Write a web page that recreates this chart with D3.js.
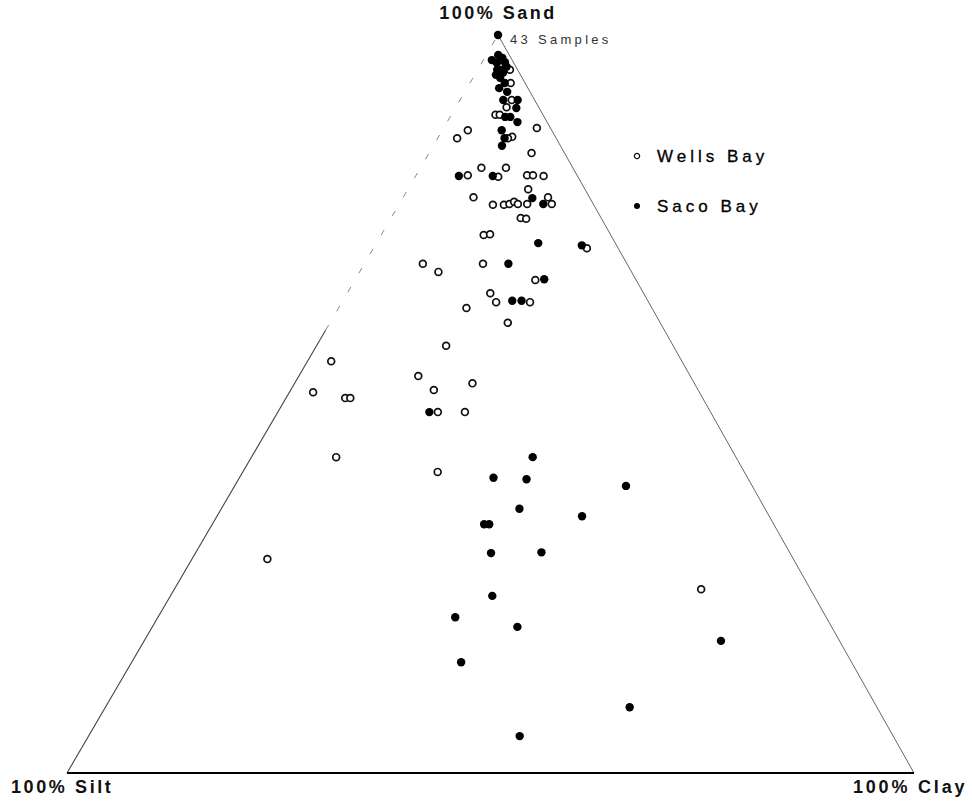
<!DOCTYPE html>
<html>
<head>
<meta charset="utf-8">
<script src="https://cdn.jsdelivr.net/npm/d3@7/dist/d3.min.js"></script>
<style>
  html, body { margin: 0; padding: 0; background: #fff; }
  svg { display: block; }
  text { font-family: "Liberation Sans", Arial, sans-serif; fill: #111; }
</style>
</head>
<body>
<svg id="chart" width="972" height="801"></svg>
<script>
// corner labels: sand on top, silt bottom left, clay bottom right
const cornerLabels = ["100% Sand", "100% Silt", "100% Clay"]
const seriesNames = ["Wells Bay", "Saco Bay"]

// samples piled on the 100% sand corner
const apexSamples = [[100, 0, 0, 43]]

// [sand, silt, clay] in percent
const wellsBay = [
  [95.3, 0.9, 3.8], [93.5, 1.7, 4.8], [91.2, 2.7, 6.1], [90.2, 3.8, 6.0],
  [89.2, 5.6, 5.2], [89.2, 5.1, 5.7], [86.2, 5.1, 8.7], [86.0, 5.7, 8.3],
  [87.4, 1.6, 11.0], [87.1, 9.9, 3.0], [86.0, 11.7, 2.3], [84.0, 3.9, 12.1],
  [82.0, 10.8, 7.2], [82.0, 7.9, 10.1], [81.0, 12.9, 6.1], [80.8, 9.4, 9.8],
  [81.0, 5.9, 13.1], [81.0, 5.2, 13.8], [80.9, 4.0, 15.1], [79.1, 6.7, 14.2],
  [78.0, 13.7, 8.3], [78.0, 4.9, 17.1], [77.1, 4.9, 18.0], [77.0, 11.9, 11.1],
  [77.0, 10.6, 12.4], [77.1, 9.9, 13.0], [77.4, 9.2, 13.4], [77.1, 8.9, 14.0],
  [77.1, 7.8, 15.1], [75.2, 9.5, 15.3], [75.1, 8.9, 16.0], [72.9, 15.0, 12.1],
  [73.0, 14.2, 12.8], [71.1, 3.7, 25.2], [69.0, 24.1, 6.9], [67.9, 22.8, 9.3],
  [69.0, 17.0, 14.0], [66.8, 11.9, 21.3], [65.0, 18.1, 16.9], [63.8, 18.0, 18.2],
  [63.8, 14.0, 22.2], [63.0, 21.9, 15.1], [61.0, 18.0, 21.0], [57.9, 26.8, 15.3],
  [55.8, 41.4, 2.8], [51.6, 45.6, 2.8], [50.8, 42.2, 7.0], [50.8, 41.6, 7.6],
  [53.8, 32.1, 14.1], [52.8, 26.2, 21.0], [51.9, 31.2, 16.9], [48.9, 32.2, 18.9],
  [48.9, 29.0, 22.1], [42.8, 47.2, 10.0], [40.8, 36.2, 23.0], [29.0, 62.1, 8.9],
  [24.9, 12.9, 62.2]
]

const sacoBay = [
  [97.3, 1.3, 1.4], [96.9, 1.0, 2.1], [96.3, 1.0, 2.7], [96.2, 2.0, 1.8],
  [95.7, 1.1, 3.2], [95.3, 2.4, 2.3], [95.3, 1.8, 2.9], [94.9, 1.9, 3.2],
  [94.2, 2.6, 3.2], [93.5, 2.4, 4.1], [92.3, 2.7, 5.0], [91.2, 3.7, 5.1],
  [91.2, 2.0, 6.8], [90.1, 2.7, 7.2], [88.9, 4.6, 6.5], [88.9, 4.0, 7.1],
  [88.2, 3.5, 8.3], [87.1, 5.9, 7.0], [86.0, 6.1, 7.9], [85.0, 6.9, 8.1],
  [96.6, 2.4, 1.0], [94.6, 2.9, 2.5], [92.8, 3.4, 3.8],
  [80.9, 14.0, 5.1], [80.9, 10.0, 9.1], [77.9, 6.8, 15.3], [77.1, 5.9, 17.0],
  [71.8, 9.1, 19.1], [71.5, 4.1, 24.4], [69.0, 14.0, 17.0], [66.9, 10.8, 22.3],
  [64.0, 16.0, 20.0], [64.0, 14.9, 21.1], [48.9, 33.2, 17.9], [42.8, 24.0, 33.2],
  [40.0, 30.0, 30.0], [39.8, 26.2, 34.0], [38.9, 14.9, 46.2], [35.8, 29.0, 35.2],
  [34.8, 22.1, 43.1], [33.7, 34.2, 32.1], [33.7, 33.6, 32.7], [29.8, 35.3, 34.9],
  [29.9, 29.3, 40.8], [24.0, 38.0, 38.0], [21.1, 43.8, 35.1], [19.8, 37.1, 43.1],
  [15.0, 46.1, 38.9], [17.9, 14.0, 68.1], [8.9, 29.2, 61.9], [5.0, 44.1, 50.9]
]

const svg = d3.select("#chart")

// triangle corners (pixels)
const apex = [498, 35], silt = [67, 773], clay = [914, 773]

// barycentric projection through linear scales
const yScale = d3.scaleLinear().domain([0, 100]).range([silt[1], apex[1]])
const xClay = d3.scaleLinear().domain([0, 100]).range([silt[0], clay[0]])
const xSand = d3.scaleLinear().domain([0, 100]).range([0, apex[0] - silt[0]])
const px = d => xClay(d[2]) + xSand(d[0])
const py = d => yScale(d[0])

// triangle edges
const edges = svg.append("g")
const midLeft = [60, 40, 0]
edges.append("line")
  .attr("x1", px([0, 100, 0])).attr("y1", py([0, 100, 0]))
  .attr("x2", px(midLeft)).attr("y2", py(midLeft))
  .style("stroke", "#444").style("stroke-width", 1.1)
edges.append("line")
  .attr("x1", px(midLeft)).attr("y1", py(midLeft))
  .attr("x2", px([100, 0, 0])).attr("y2", py([100, 0, 0]))
  .style("stroke", "#888").style("stroke-width", 1)
  .style("stroke-dasharray", "6,16")
edges.append("line")
  .attr("x1", px([100, 0, 0])).attr("y1", py([100, 0, 0]))
  .attr("x2", px([0, 0, 100])).attr("y2", py([0, 0, 100]))
  .style("stroke", "#666").style("stroke-width", 1)
edges.append("line")
  .attr("x1", px([0, 100, 0])).attr("y1", py([0, 100, 0]))
  .attr("x2", px([0, 0, 100])).attr("y2", py([0, 0, 100]))
  .style("stroke", "#000").style("stroke-width", 2.2)

// corner labels
svg.append("text").text(cornerLabels[0])
  .attr("x", apex[0]).attr("y", 19).attr("text-anchor", "middle")
  .style("font-size", "18px").style("font-weight", "bold").style("letter-spacing", "2.5px")
svg.append("text").text(cornerLabels[1])
  .attr("x", 11).attr("y", 793)
  .style("font-size", "18px").style("font-weight", "bold").style("letter-spacing", "2.6px")
svg.append("text").text(cornerLabels[2])
  .attr("x", 853).attr("y", 793)
  .style("font-size", "18px").style("font-weight", "bold").style("letter-spacing", "2.8px")

// sample points
const pts = svg.append("g")
pts.selectAll(".wells")
  .data(wellsBay)
  .enter()
  .append("circle")
  .attr("class", "wells")
  .attr("cx", px).attr("cy", py).attr("r", 3.4)
  .style("fill", "#fff").style("stroke", "#111").style("stroke-width", 1.7)

pts.selectAll(".saco")
  .data(sacoBay.concat(apexSamples))
  .enter()
  .append("circle")
  .attr("class", "saco")
  .attr("cx", px).attr("cy", py).attr("r", 4.2)
  .style("fill", "#000")

svg.selectAll(".apexLabel")
  .data(apexSamples)
  .enter()
  .append("text")
  .attr("class", "apexLabel")
  .attr("x", d => px(d) + 12).attr("y", d => py(d) + 9)
  .text(d => d[3] + " Samples")
  .style("font-size", "13px").style("letter-spacing", "3.3px").style("fill", "#333")

// legend
const legend = svg.append("g").attr("transform", "translate(637,156)")
seriesNames.forEach((name, i) => {
  const g = legend.append("g").attr("transform", `translate(0,${i * 50})`)
  g.append("circle").attr("r", i === 0 ? 2.6 : 3)
    .style("fill", i === 0 ? "#fff" : "#000")
    .style("stroke", "#111").style("stroke-width", i === 0 ? 1.3 : 0)
  g.append("text").text(name)
    .attr("x", 20).attr("y", 6)
    .style("font-size", "17px").style("letter-spacing", "4px")
    .style("fill", "#000").style("stroke", "#000").style("stroke-width", 0.3)
})
</script>
</body>
</html>
